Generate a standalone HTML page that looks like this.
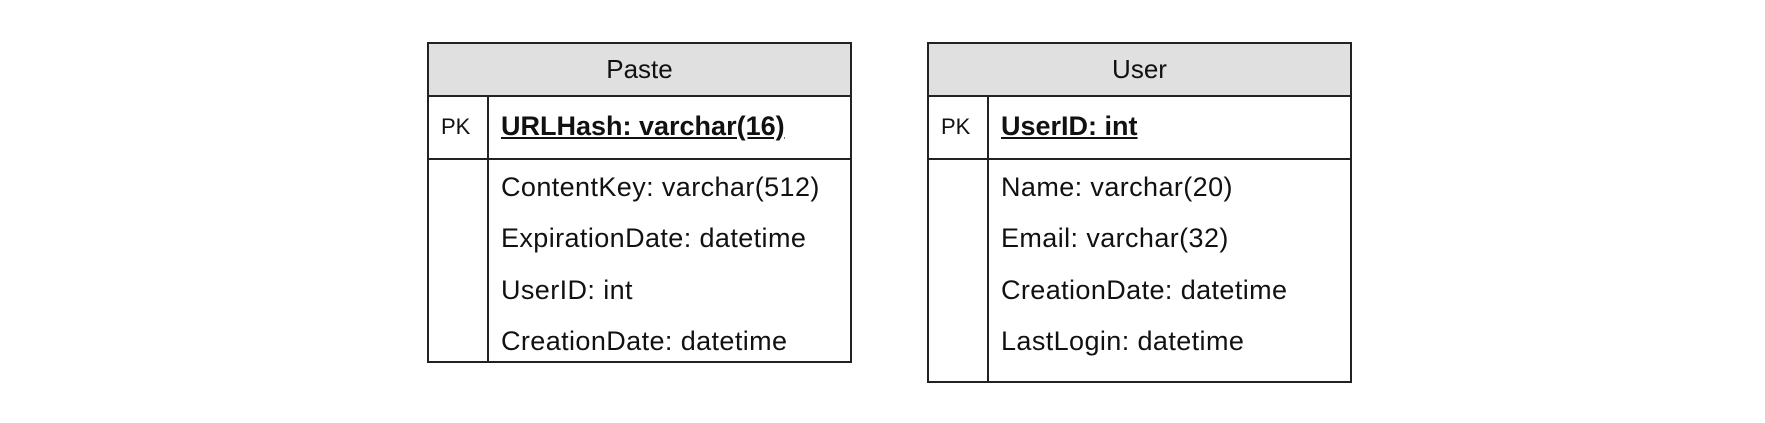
<!DOCTYPE html>
<html><head><style>
body{margin:0;width:1765px;height:423px;background:#fff;position:relative;font-family:"Liberation Sans",Arial,sans-serif;color:#111;overflow:hidden}
.t{position:absolute;border:2px solid #222;box-sizing:border-box;background:#fff}
.h{position:absolute;left:0;right:0;top:0;height:51px;background:#e0e0e0;border-bottom:2px solid #222;text-align:center;line-height:51px;font-size:26px}
.pk{position:absolute;left:0;right:0;top:53px;height:61px;border-bottom:2px solid #222}
.v{position:absolute;top:53px;bottom:0;left:58px;border-left:2px solid #222}
.s{position:absolute;white-space:nowrap;font-size:27px;line-height:30px;letter-spacing:0.4px}
.p{position:absolute;font-size:22px;left:12px;line-height:30px}
</style></head><body>
<div class="t" style="left:427px;top:42px;width:425px;height:321px">
<div class="h">Paste</div><div class="pk"></div><div class="v"></div>
<div class="p" style="top:68px">PK</div>
<div class="s" style="left:72px;top:67px;font-weight:bold;text-decoration:underline;letter-spacing:0">URLHash: varchar(16)</div>
<div class="s" style="left:72px;top:128px">ContentKey: varchar(512)</div>
<div class="s" style="left:72px;top:179px">ExpirationDate: datetime</div>
<div class="s" style="left:72px;top:231px">UserID: int</div>
<div class="s" style="left:72px;top:282px">CreationDate: datetime</div>
</div>
<div class="t" style="left:927px;top:42px;width:425px;height:341px">
<div class="h">User</div><div class="pk"></div><div class="v"></div>
<div class="p" style="top:68px">PK</div>
<div class="s" style="left:72px;top:67px;font-weight:bold;text-decoration:underline;letter-spacing:0">UserID: int</div>
<div class="s" style="left:72px;top:128px">Name: varchar(20)</div>
<div class="s" style="left:72px;top:179px">Email: varchar(32)</div>
<div class="s" style="left:72px;top:231px">CreationDate: datetime</div>
<div class="s" style="left:72px;top:282px">LastLogin: datetime</div>
</div>
</body></html>
